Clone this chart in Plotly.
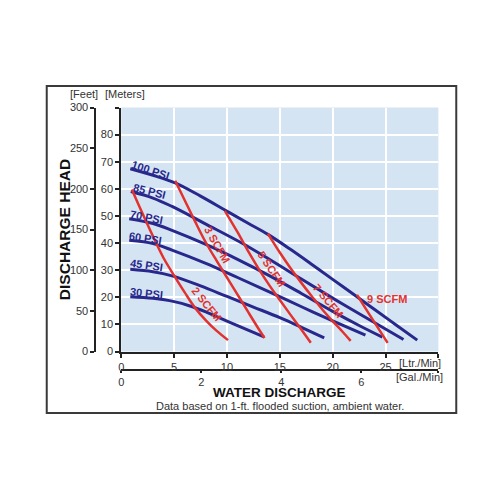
# Pump performance curve: discharge head vs water discharge, with air pressure and air use curves

import plotly.graph_objects as go

# Flow in Ltr/Min and head in meters
flow_100psi = [0.85, 3, 5.1, 7.5, 9.8, 12, 13.87, 16, 18, 20, 22.3, 24, 26, 28]
head_100psi = [67.4, 65.0, 62.2, 57.3, 52.2, 47.3, 43.2, 37.7, 32.2, 26.6, 20.2, 15.4, 9.8, 4.2]
flow_85psi = [0.9, 3, 4.8, 8, 11.4, 14, 17, 20, 23, 26.7]
head_85psi = [59, 56.6, 53.5, 47, 40, 34, 26.8, 19.7, 12.8, 4.4]
flow_70psi = [0.75, 3, 4.8, 8, 11, 14, 17, 20, 22.5, 24.7]
head_70psi = [49, 47.2, 44.7, 39.5, 34, 28, 21.5, 14.8, 9.6, 5.3]
flow_60psi = [0.75, 3, 4.8, 8, 11, 14, 17, 20, 23.1]
head_60psi = [41, 39.8, 37.4, 32.5, 27.3, 22, 16.6, 11.3, 6.0]
flow_45psi = [0.85, 3, 4.8, 7.5, 10, 12.5, 15, 17, 19.2]
head_45psi = [30.3, 29.4, 27.9, 24.2, 20.3, 16.4, 12.5, 9, 5.0]
flow_30psi = [0.85, 3, 5, 6.5, 8, 10, 12, 13.5]
head_30psi = [20.2, 19.6, 18.4, 16.8, 14.6, 11.2, 7.9, 5.4]

flow_2scfm = [1.0, 2.0, 3.0, 4.0, 5.0, 6.0, 7.0, 8.0, 9.0, 10.1]
head_2scfm = [59.8, 51.0, 42.5, 34.5, 28, 21.8, 16, 11.5, 7.7, 4.2]
flow_3scfm = [5.1, 6, 7, 8, 9, 10, 11, 12, 13, 13.55]
head_3scfm = [63, 55.8, 47.8, 40.2, 33.6, 27.3, 21, 14.6, 8.3, 5.0]
flow_5scfm = [9.8, 11, 12, 13, 14, 15, 16, 17, 17.93]
head_5scfm = [51.9, 44, 37, 30.5, 24.5, 19, 13.6, 8.3, 3.2]
flow_7scfm = [13.87, 15, 16, 17, 18, 19, 20, 21, 21.7]
head_7scfm = [43.5, 36.5, 30.8, 25.5, 20.5, 15.6, 11.2, 7, 3.9]
flow_9scfm = [22.3, 23.5, 25.2]
head_9scfm = [20.9, 13.5, 3.2]

psi_labels = ['100 PSI', '85 PSI', '70 PSI', '60 PSI', '45 PSI', '30 PSI']
scfm_labels = ['2 SCFM', '3 SCFM', '5 SCFM', '7 SCFM', '9 SCFM']

# Axis ticks
ltr_ticks = [0, 5, 10, 15, 20, 25, 30]
ltr_text = ['0', '5', '10', '15', '20', '25', '']
meter_ticks = [0, 10, 20, 30, 40, 50, 60, 70, 80, 90]
meter_text = ['0', '10', '20', '30', '40', '50', '60', '70', '80', '']
feet_ticks = [0, 50, 100, 150, 200, 250, 300]
gal_ticks = [0, 2, 4, 6, 30 / 3.785]
gal_text = ['0', '2', '4', '6', '']

navy = '#28288c'
red = '#e2322f'
ink = '#222222'
font_name = 'Liberation Sans, Arial, sans-serif'

psi_flows = [flow_100psi, flow_85psi, flow_70psi, flow_60psi, flow_45psi, flow_30psi]
psi_heads = [head_100psi, head_85psi, head_70psi, head_60psi, head_45psi, head_30psi]
scfm_flows = [flow_2scfm, flow_3scfm, flow_5scfm, flow_7scfm, flow_9scfm]
scfm_heads = [head_2scfm, head_3scfm, head_5scfm, head_7scfm, head_9scfm]

fig = go.Figure()

# Blue pressure curves
for name, xs, ys in zip(psi_labels, psi_flows, psi_heads):
    fig.add_trace(go.Scatter(x=xs, y=ys, mode='lines', name=name,
                             line=dict(color=navy, width=3, shape='spline'),
                             showlegend=False))

# Red air consumption curves
for name, xs, ys in zip(scfm_labels, scfm_flows, scfm_heads):
    fig.add_trace(go.Scatter(x=xs, y=ys, mode='lines', name=name,
                             line=dict(color=red, width=2.5, shape='spline'),
                             showlegend=False))

# Invisible trace so the feet and gal/min axes get drawn
fig.add_trace(go.Scatter(x=[0], y=[0], xaxis='x2', yaxis='y2', mode='markers',
                         marker=dict(opacity=0), hoverinfo='skip', showlegend=False))

# Curve labels (placed next to each curve)
psi_spots = [(2.75, 66.9, 18), (2.66, 59.3, 14), (2.35, 49.5, 11),
             (2.25, 42.0, 9), (2.35, 31.8, 8), (2.35, 21.7, 6)]
scfm_spots = [(8.1, 17.7, 51), (9.1, 39.3, 60), (14.2, 30.3, 56),
              (19.6, 18.6, 50), (25.1, 19.5, 0)]

annotations = []
for text, (x, y, ang) in zip(psi_labels, psi_spots):
    annotations.append(dict(x=x, y=y, xref='x', yref='y', text='<b>' + text + '</b>',
                            showarrow=False, textangle=ang,
                            font=dict(family=font_name, size=11, color=navy)))
for text, (x, y, ang) in zip(scfm_labels, scfm_spots):
    annotations.append(dict(x=x, y=y, xref='x', yref='y', text='<b>' + text + '</b>',
                            showarrow=False, textangle=ang,
                            font=dict(family=font_name, size=11, color=red)))

# Units and titles, in page coordinates
small = dict(family=font_name, size=11, color='#333333')
page_notes = [
    dict(x=0.163, y=0.82, text='[Feet]', font=small),
    dict(x=0.245, y=0.82, text='[Meters]', font=small),
    dict(x=0.839, y=0.268, text='[Ltr./Min]', font=small),
    dict(x=0.838, y=0.24, text='[Gal./Min]', font=small),
    dict(x=0.557, y=0.207, text='<b>WATER DISCHARGE</b>',
         font=dict(family=font_name, size=13.5, color='#111111')),
    dict(x=0.557, y=0.18, text='Data based on 1-ft. flooded suction, ambient water.', font=small),
    dict(x=0.124, y=0.542, text='<b>DISCHARGE HEAD</b>', textangle=-90,
         font=dict(family=font_name, size=15.5, color='#111111')),
]
for a in page_notes:
    a.update(xref='paper', yref='paper', xanchor='center', yanchor='middle', showarrow=False)
annotations += page_notes

axis_style = dict(showline=True, linecolor=ink, linewidth=2, ticks='outside',
                  ticklen=4, tickwidth=1.5, tickcolor=ink, zeroline=False,
                  tickfont=dict(family=font_name, size=11, color='#333333'))

fig.update_layout(
    width=500, height=500,
    margin=dict(l=0, r=0, t=0, b=0),
    paper_bgcolor='white',
    plot_bgcolor='#d5e4f2',
    xaxis=dict(domain=[0.238, 0.876], range=[0, 30], tickvals=ltr_ticks, ticktext=ltr_text,
               showgrid=True, gridcolor='white', gridwidth=2, **axis_style),
    yaxis=dict(domain=[0.292, 0.792], range=[0, 90], tickvals=meter_ticks, ticktext=meter_text,
               showgrid=True, gridcolor='white', gridwidth=2, **axis_style),
    xaxis2=dict(overlaying='x', anchor='free', position=0.254, side='bottom',
                range=[0, 30 / 3.785], tickvals=gal_ticks, ticktext=gal_text,
                showgrid=False, **dict(axis_style, ticklen=2)),
    yaxis2=dict(overlaying='y', anchor='free', position=0.186, side='left',
                range=[0, 300], tickvals=feet_ticks, showgrid=False, **axis_style),
    annotations=annotations,
    shapes=[dict(type='rect', xref='paper', yref='paper', x0=0.088, x1=0.912,
                 y0=0.166, y1=0.836, line=dict(color='#3a3a3a', width=2))],
)

# Drop the page margin so the 500x500 figure fills the window, and hide the toolbar
fig.write_html("out.html", config={'displayModeBar': False},
               post_script="document.body.style.margin='0';")
